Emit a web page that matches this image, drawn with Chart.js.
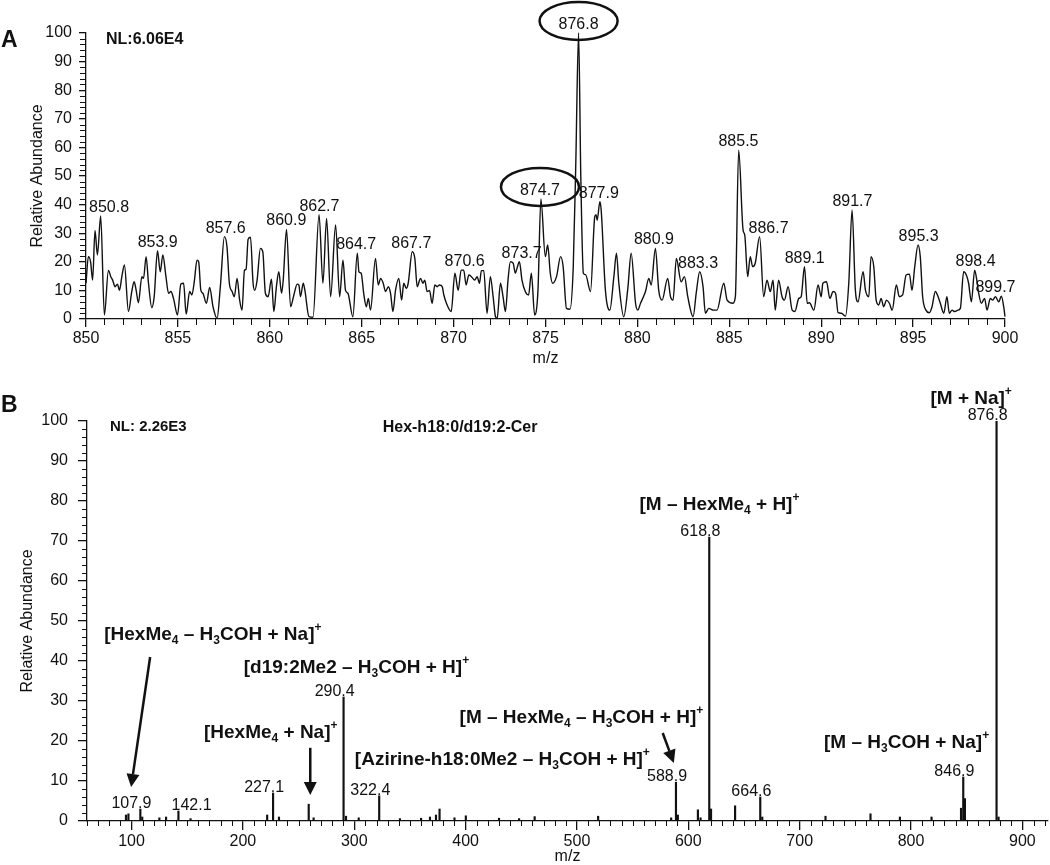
<!DOCTYPE html>
<html>
<head>
<meta charset="utf-8">
<script src="https://cdn.jsdelivr.net/npm/chart.js@4.4.0/dist/chart.umd.min.js"></script>
<style>
  html, body { margin: 0; padding: 0; background: #fff; }
  #wrap { position: relative; width: 1050px; height: 865px; }
  canvas { position: absolute; left: 0; }
  #chartA { top: 0; }
  #chartB { top: 380px; }
</style>
</head>
<body>
<div id="wrap">
  <canvas id="chartA" width="1050" height="380"></canvas>
  <canvas id="chartB" width="1050" height="485"></canvas>
</div>
<script>
// ===== DATA: panel A, full scan m/z 850-900 =====
const mzA = [
  850.00, 850.13, 850.25, 850.36, 850.49, 850.62, 850.80, 851.00, 851.22, 851.35,
  851.45, 851.58, 851.71, 851.82, 851.95, 852.09, 852.31, 852.49, 852.62, 852.73,
  852.85, 853.04, 853.13, 853.27, 853.40, 853.58, 853.71, 853.89, 854.04, 854.18,
  854.35, 854.49, 854.62, 854.76, 854.98, 855.16, 855.31, 855.45, 855.64, 855.76,
  855.89, 856.04, 856.13, 856.25, 856.36, 856.55, 856.73, 856.91, 857.13, 857.31,
  857.53, 857.67, 857.80, 857.95, 858.07, 858.22, 858.36, 858.49, 858.62, 858.71,
  858.82, 858.95, 859.09, 859.18, 859.31, 859.49, 859.62, 859.76, 859.91, 860.09,
  860.22, 860.36, 860.49, 860.64, 860.73, 860.91, 861.13, 861.31, 861.49, 861.58,
  861.67, 861.82, 861.91, 862.13, 862.35, 862.68, 862.89, 863.09, 863.31, 863.58,
  863.80, 863.98, 864.12, 864.25, 864.52, 864.76, 864.85, 864.97, 865.12, 865.25,
  865.36, 865.48, 865.75, 865.90, 866.03, 866.17, 866.30, 866.45, 866.57, 866.70,
  866.84, 867.02, 867.17, 867.29, 867.42, 867.53, 867.75, 867.89, 868.02, 868.20,
  868.33, 868.43, 868.56, 868.69, 868.83, 868.98, 869.10, 869.23, 869.38, 869.47,
  869.61, 869.87, 870.07, 870.25, 870.41, 870.55, 870.68, 870.83, 870.97, 871.15,
  871.28, 871.41, 871.51, 871.64, 871.82, 872.00, 872.15, 872.28, 872.37, 872.55,
  872.69, 872.82, 872.96, 873.09, 873.24, 873.36, 873.45, 873.58, 873.72, 873.90,
  874.08, 874.23, 874.41, 874.59, 874.75, 874.99, 875.12, 875.26, 875.39, 875.60,
  875.82, 875.96, 876.14, 876.33, 876.51, 876.65, 876.80, 876.92, 877.06, 877.18,
  877.45, 877.68, 877.75, 877.81, 877.96, 878.03, 878.26, 878.50, 878.72, 878.86,
  878.99, 879.26, 879.48, 879.66, 879.90, 880.02, 880.17, 880.44, 880.62, 880.75,
  880.98, 881.16, 881.34, 881.65, 881.80, 881.94, 882.12, 882.38, 882.56, 882.74,
  883.03, 883.21, 883.39, 883.57, 883.70, 883.88, 884.15, 884.33, 884.70, 884.88,
  885.20, 885.33, 885.51, 885.75, 885.84, 886.00, 886.14, 886.27, 886.41, 886.65,
  886.87, 887.05, 887.23, 887.38, 887.50, 887.68, 887.87, 888.00, 888.20, 888.42,
  888.57, 888.78, 888.91, 889.09, 889.24, 889.36, 889.60, 889.83, 890.00, 890.09,
  890.29, 890.47, 890.65, 890.78, 890.92, 891.10, 891.32, 891.50, 891.68, 891.86,
  892.00, 892.28, 892.41, 892.59, 892.71, 892.86, 892.99, 893.13, 893.26, 893.40,
  893.55, 893.71, 893.86, 894.09, 894.25, 894.43, 894.62, 894.80, 894.94, 895.09,
  895.27, 895.39, 895.52, 895.70, 895.88, 896.03, 896.21, 896.36, 896.48, 896.67,
  896.84, 896.97, 897.12, 897.26, 897.44, 897.57, 897.75, 897.93, 898.02, 898.17,
  898.35, 898.48, 898.57, 898.71, 898.89, 899.02, 899.20, 899.33, 899.48, 899.66,
  899.80, 899.93, 900.00
];
const abundA = [
  12.5, 21.8, 20.0, 13.6, 31.0, 22.4, 36.0, 1.4, 17.0, 14.8,
  13.6, 11.3, 12.2, 10.0, 14.8, 18.9, 2.6, 9.6, 13.0, 10.0,
  5.7, 14.8, 14.2, 21.8, 12.5, 4.0, 7.8, 23.9, 16.5, 22.4,
  14.8, 9.0, 9.6, 7.2, 1.4, 12.2, 12.5, 1.7, 9.6, 8.4,
  13.0, 20.6, 20.0, 10.0, 9.0, 5.5, 11.0, 4.3, 0.2, 11.3,
  28.8, 25.3, 12.5, 9.6, 7.8, 14.2, 6.6, 3.1, 17.0, 17.4,
  27.9, 28.6, 12.5, 10.0, 13.6, 24.7, 23.5, 9.0, 7.8, 13.9,
  2.6, 11.3, 16.5, 9.0, 13.6, 31.3, 4.3, 8.4, 12.2, 11.9,
  7.8, 12.5, 10.0, 0.8, 0.6, 36.5, 12.5, 35.2, 7.8, 32.9,
  7.8, 20.6, 10.0, 9.0, 0.8, 23.0, 16.5, 16.0, 8.4, 4.3,
  7.2, 3.1, 21.2, 11.9, 14.2, 12.5, 9.6, 11.3, 9.0, 2.6,
  10.0, 14.2, 6.6, 12.5, 10.7, 12.5, 23.5, 21.2, 11.3, 14.2,
  12.5, 13.6, 9.6, 10.0, 5.5, 11.9, 11.3, 11.9, 11.3, 8.4,
  5.5, 2.6, 16.0, 10.0, 17.1, 17.1, 11.9, 15.4, 14.8, 13.6,
  14.8, 12.5, 16.9, 16.9, 2.0, 14.8, 7.8, 0.8, 0.2, 12.5,
  7.8, 2.6, 13.6, 20.0, 19.5, 16.0, 17.7, 20.0, 13.6, 9.6,
  8.4, 16.0, 1.4, 10.0, 42.0, 21.8, 25.9, 16.0, 12.5, 14.8,
  21.8, 18.3, 3.7, 3.4, 18.3, 55.0, 100.0, 50.0, 16.0, 15.5,
  9.6, 35.8, 36.5, 34.5, 41.0, 38.0, 10.0, 3.1, 14.8, 23.0,
  12.5, 0.8, 10.7, 23.0, 5.5, 3.1, 5.5, 9.6, 14.2, 11.9,
  24.7, 10.0, 6.6, 14.2, 7.8, 6.6, 21.2, 13.0, 14.8, 7.8,
  0.8, 9.6, 16.5, 11.3, 2.0, 3.7, 3.1, 3.1, 12.5, 6.6,
  5.5, 7.8, 59.0, 31.1, 29.4, 14.8, 21.8, 18.3, 19.5, 28.8,
  7.8, 13.6, 9.6, 13.6, 3.1, 13.6, 7.8, 6.6, 11.3, 3.1,
  2.6, 7.2, 7.8, 18.3, 5.5, 5.7, 3.1, 11.9, 7.8, 12.5,
  13.0, 7.2, 9.6, 9.0, 2.2, 2.0, 1.0, 12.5, 38.1, 10.0,
  6.0, 16.5, 10.0, 7.8, 21.8, 18.3, 6.6, 4.9, 7.2, 4.3,
  6.6, 5.5, 3.1, 11.9, 7.8, 8.4, 15.4, 15.7, 10.0, 18.3,
  25.9, 21.8, 7.8, 3.1, 2.2, 4.3, 9.6, 7.8, 5.5, 2.0,
  7.8, 2.0, 3.1, 2.6, 3.1, 3.7, 16.5, 14.8, 12.5, 6.0,
  17.1, 13.0, 9.0, 5.5, 7.2, 3.1, 7.2, 6.6, 7.8, 6.0,
  8.0, 4.3, 0.8
];
const peakLabelsA = [850.8, 853.9, 857.6, 860.9, 862.7, 864.7, 867.7, 870.6, 873.7, 874.7,
  876.8, 877.9, 880.9, 883.3, 885.5, 886.7, 889.1, 891.7, 895.3, 898.4, 899.7];
const circledA = [874.7, 876.8];

// ===== DATA: panel B, MS/MS of m/z 876.8 =====
const mzB = [95.0, 97.2, 107.9, 109.6, 125.0, 131.0, 142.1, 153.0, 221.8, 227.1,
  232.4, 259.1, 263.5, 290.4, 292.6, 304.0, 322.4, 341.0, 360.0, 368.0,
  373.4, 376.6, 390.0, 400.2, 430.0, 448.0, 462.0, 519.0, 584.6, 588.9,
  590.6, 608.6, 611.0, 618.8, 620.4, 642.0, 664.6, 666.4, 723.2, 763.6,
  790.0, 818.4, 844.9, 846.9, 848.4, 876.8, 878.6];
const abundB = [1.5, 1.8, 3.0, 1.0, 0.8, 1.0, 2.5, 0.6, 1.5, 7.0,
  1.0, 4.2, 0.8, 31.0, 1.2, 0.8, 6.3, 0.6, 0.7, 1.0,
  1.5, 3.0, 0.8, 1.3, 0.7, 0.6, 1.1, 1.2, 0.8, 9.7,
  1.5, 2.8, 0.8, 71.0, 3.0, 3.8, 6.0, 1.0, 1.2, 1.8,
  1.0, 1.0, 3.2, 11.0, 5.6, 100.0, 1.0];
const peakLabelsB = [107.9, 142.1, 227.1, 290.4, 322.4, 588.9, 618.8, 664.6, 846.9, 876.8];

// ion annotations: "_x" = subscript, "^x" = superscript; placed in (m/z, abundance)
const ionNotes = [
  { text: "[M + Na]^+", mz: 854, ab: 105.5 },
  { text: "[M \u2013 HexMe_4 + H]^+", mz: 628, ab: 79 },
  { text: "[HexMe_4 \u2013 H_3COH + Na]^+", mz: 173, ab: 46.5 },
  { text: "[d19:2Me2 \u2013 H_3COH + H]^+", mz: 302, ab: 38.2 },
  { text: "[HexMe_4 + Na]^+", mz: 225, ab: 22 },
  { text: "[M \u2013 HexMe_4 \u2013 H_3COH + H]^+", mz: 504, ab: 25.7 },
  { text: "[Azirine-h18:0Me2 \u2013 H_3COH + H]^+", mz: 433, ab: 15.2 },
  { text: "[M \u2013 H_3COH + Na]^+", mz: 796, ab: 19.5 }
];
const ionArrows = [
  { from: [116.7, 41], to: [99.6, 8.5] },
  { from: [260.5, 18.3], to: [260.5, 6.5] },
  { from: [577, 22], to: [587, 14.5] }
];

const FONT = '"Liberation Sans", Arial, Helvetica, sans-serif';
const INK = "#111";
Chart.defaults.font.family = FONT;
Chart.defaults.font.size = 16;
Chart.defaults.color = INK;

// small extra ticks between the labelled ones
const minorTicks = {
  id: "minorTicks",
  afterDraw(chart, args, o) {
    const { ctx, scales: { x, y } } = chart;
    ctx.save();
    ctx.strokeStyle = INK;
    ctx.lineWidth = 1;
    ctx.beginPath();
    for (let v = o.xFrom; v <= x.max; v += o.xStep) {
      if (v % o.xMajor === 0) continue;
      const px = Math.round(x.getPixelForValue(v)) + 0.5;
      ctx.moveTo(px, x.top);
      ctx.lineTo(px, x.top + o.len);
    }
    for (let v = 0; v <= y.max; v += 2) {
      if (v % 10 === 0) continue;
      const py = Math.round(y.getPixelForValue(v)) + 0.5;
      ctx.moveTo(y.right, py);
      ctx.lineTo(y.right - o.len, py);
    }
    ctx.stroke();
    ctx.restore();
  }
};

function drawRich(ctx, str, cx, cy, size) {
  const parts = [];
  for (let i = 0; i < str.length; i++) {
    const c = str[i];
    if ((c === "_" || c === "^") && i + 1 < str.length) {
      parts.push({ t: str[i + 1], k: c });
      i++;
    } else {
      const last = parts[parts.length - 1];
      if (last && last.k === "n") last.t += c;
      else parts.push({ t: c, k: "n" });
    }
  }
  const small = Math.round(size * 0.62);
  const widthOf = p => {
    ctx.font = `bold ${p.k === "n" ? size : small}px ${FONT}`;
    return ctx.measureText(p.t).width;
  };
  const total = parts.reduce((s, p) => s + widthOf(p), 0);
  let x = cx - total / 2;
  ctx.textAlign = "left";
  ctx.textBaseline = "middle";
  parts.forEach(p => {
    const w = widthOf(p);
    const dy = p.k === "_" ? size * 0.3 : p.k === "^" ? -size * 0.38 : 0;
    ctx.fillText(p.t, x, cy + dy);
    x += w;
  });
}

function drawArrow(ctx, x1, y1, x2, y2) {
  const a = Math.atan2(y2 - y1, x2 - x1);
  const head = 13, half = 6.5;
  const bx = x2 - head * Math.cos(a), by = y2 - head * Math.sin(a);
  ctx.lineWidth = 2.5;
  ctx.beginPath();
  ctx.moveTo(x1, y1);
  ctx.lineTo(bx, by);
  ctx.stroke();
  ctx.beginPath();
  ctx.moveTo(x2, y2);
  ctx.lineTo(bx + half * Math.sin(a), by - half * Math.cos(a));
  ctx.lineTo(bx - half * Math.sin(a), by + half * Math.cos(a));
  ctx.closePath();
  ctx.fill();
}

// ===== panel A labels =====
const nudgeA = { 886.7: 8, 899.7: -4 };
const labelsA = {
  id: "labelsA",
  afterDraw(chart) {
    const { ctx, chartArea, scales: { x, y } } = chart;
    ctx.save();
    ctx.fillStyle = INK;
    ctx.strokeStyle = INK;
    ctx.font = `bold 23px ${FONT}`;
    ctx.textAlign = "left";
    ctx.textBaseline = "middle";
    ctx.fillText("A", 1, 41);
    ctx.font = `bold 16px ${FONT}`;
    ctx.fillText("NL:6.06E4", chartArea.left + 20, chartArea.top + 7);

    ctx.font = `16px ${FONT}`;
    ctx.textAlign = "center";
    ctx.textBaseline = "alphabetic";
    peakLabelsA.forEach(m => {
      let top = 0;
      mzA.forEach((v, i) => { if (Math.abs(v - m) <= 0.2) top = Math.max(top, abundA[i]); });
      const s = m.toFixed(1);
      const w = ctx.measureText(s).width;
      let cx = x.getPixelForValue(m) + (nudgeA[m] || 0);
      cx = Math.max(cx, chartArea.left + 3 + w / 2);
      const base = y.getPixelForValue(top) - 4;
      ctx.fillText(s, cx, base);
      if (circledA.includes(m)) {
        ctx.lineWidth = 2.5;
        ctx.beginPath();
        ctx.ellipse(cx, base - 8, w / 2 + 19, 19, 0, 0, Math.PI * 2);
        ctx.stroke();
      }
    });
    ctx.restore();
  }
};

// ===== panel B labels and annotations =====
const nudgeB = { 142.1: 22 };
const labelsB = {
  id: "labelsB",
  afterDraw(chart) {
    const { ctx, chartArea, scales: { x, y } } = chart;
    ctx.save();
    ctx.fillStyle = INK;
    ctx.strokeStyle = INK;
    ctx.font = `bold 23px ${FONT}`;
    ctx.textAlign = "left";
    ctx.textBaseline = "middle";
    ctx.fillText("B", 1, 26);
    ctx.font = `bold 15px ${FONT}`;
    ctx.fillText("NL: 2.26E3", chartArea.left + 23, chartArea.top + 6);
    ctx.font = `bold 16px ${FONT}`;
    ctx.textAlign = "center";
    ctx.fillText("Hex-h18:0/d19:2-Cer", x.getPixelForValue(395), chartArea.top + 7);

    // peak numbers with the decimal point sitting on the stick
    ctx.font = `16px ${FONT}`;
    ctx.textAlign = "left";
    ctx.textBaseline = "alphabetic";
    peakLabelsB.forEach(m => {
      const i = mzB.indexOf(m);
      const s = m.toFixed(1);
      const lead = ctx.measureText(s.split(".")[0]).width + ctx.measureText(".").width / 2;
      const px = x.getPixelForValue(m) + (nudgeB[m] || 0);
      ctx.fillText(s, px - lead, y.getPixelForValue(abundB[i]) - 1);
    });

    ionNotes.forEach(n => drawRich(ctx, n.text, x.getPixelForValue(n.mz), y.getPixelForValue(n.ab), 19));
    ionArrows.forEach(a => drawArrow(ctx,
      x.getPixelForValue(a.from[0]), y.getPixelForValue(a.from[1]),
      x.getPixelForValue(a.to[0]), y.getPixelForValue(a.to[1])));
    ctx.restore();
  }
};

const axisLine = { color: INK, width: 1.3 };
const tickGrid = len => ({ drawOnChartArea: false, tickLength: len, color: INK, lineWidth: 1.3 });

new Chart(document.getElementById("chartA"), {
  type: "line",
  data: {
    datasets: [{
      data: mzA.map((m, i) => ({ x: m, y: abundA[i] })),
      borderColor: INK,
      borderWidth: 1.4,
      pointRadius: 0,
      cubicInterpolationMode: "monotone",
      clip: false
    }]
  },
  options: {
    responsive: false,
    animation: false,
    events: [],
    layout: { padding: { left: 0, right: 45, top: 33, bottom: 0 } },
    plugins: {
      legend: { display: false },
      tooltip: { enabled: false },
      minorTicks: { xFrom: 850, xStep: 1, xMajor: 5, len: 6 }
    },
    scales: {
      x: {
        type: "linear", min: 850, max: 900,
        ticks: { stepSize: 5, includeBounds: false, padding: 2, maxRotation: 0 },
        grid: tickGrid(8),
        border: axisLine,
        title: { display: true, text: "m/z", padding: { top: 0, bottom: 12 } },
        afterFit: s => { s.height = 61; }
      },
      y: {
        min: 0, max: 100,
        ticks: { stepSize: 10, padding: 7 },
        grid: tickGrid(7),
        border: axisLine,
        title: { display: true, text: "Relative Abundance", padding: { top: 28, bottom: 0 } },
        afterFit: s => { s.width = 86; }
      }
    }
  },
  plugins: [minorTicks, labelsA]
});

new Chart(document.getElementById("chartB"), {
  type: "bar",
  data: {
    datasets: [{
      data: mzB.map((m, i) => ({ x: m, y: abundB[i] })),
      backgroundColor: INK,
      borderWidth: 0,
      barThickness: 1.5
    }]
  },
  options: {
    responsive: false,
    animation: false,
    events: [],
    layout: { padding: { left: 0, right: 2, top: 41, bottom: 0 } },
    plugins: {
      legend: { display: false },
      tooltip: { enabled: false },
      minorTicks: { xFrom: 60, xStep: 10, xMajor: 100, len: 5 }
    },
    scales: {
      x: {
        type: "linear", min: 60, max: 923, offset: false,
        ticks: { stepSize: 100, includeBounds: false, padding: 2, maxRotation: 0 },
        grid: Object.assign(tickGrid(9), { offset: false }),
        border: axisLine,
        title: { display: true, text: "m/z", font: { lineHeight: 1 }, padding: { top: 0, bottom: 0 } },
        afterFit: s => { s.height = 44; }
      },
      y: {
        min: 0, max: 100,
        ticks: { stepSize: 10, padding: 10 },
        grid: tickGrid(9),
        border: axisLine,
        title: { display: true, text: "Relative Abundance", padding: { top: 18, bottom: 0 } },
        afterFit: s => { s.width = 87; }
      }
    }
  },
  plugins: [minorTicks, labelsB]
});
</script>
</body>
</html>
